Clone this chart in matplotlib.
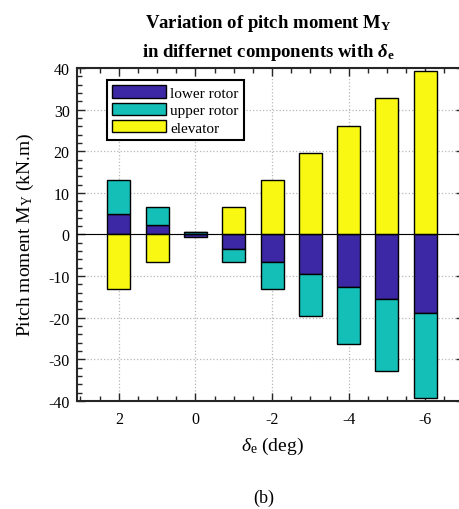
import numpy as np
import matplotlib
matplotlib.use('Agg')
import matplotlib.pyplot as plt
from matplotlib.ticker import MultipleLocator

# fonts: Times-like serif everywhere, math in the same family
plt.rcParams['font.family'] = ['Liberation Serif', 'DejaVu Serif']
plt.rcParams['mathtext.fontset'] = 'custom'
plt.rcParams['mathtext.rm'] = 'Liberation Serif'
plt.rcParams['mathtext.it'] = 'Liberation Serif:italic'
plt.rcParams['mathtext.bf'] = 'Liberation Serif:bold'
plt.rcParams['mathtext.bfit'] = 'Liberation Serif:bold:italic'
plt.rcParams['axes.unicode_minus'] = False

# data (kN.m)
delta_e = [2, 1, 0, -1, -2, -3, -4, -5, -6]
lower_rotor = [5.0, 2.3, -0.6, -3.6, -6.5, -9.6, -12.7, -15.6, -18.8]
upper_rotor = [8.2, 4.4, 0.6, -2.9, -6.5, -10.0, -13.5, -17.2, -20.5]
elevator = [-13.2, -6.7, 0.0, 6.5, 13.1, 19.6, 26.1, 32.8, 39.3]
xtick_vals = [2, 0, -2, -4, -6]

series = [('lower rotor', lower_rotor, '#3c28a4'),
          ('upper rotor', upper_rotor, '#14bfb7'),
          ('elevator', elevator, '#f8f812')]

fig = plt.figure(figsize=(4.59, 5.10), dpi=100)
ax = fig.add_axes([0.167, 0.2118, 0.843, 0.6529])

# stacked bars, positive and negative parts stacked separately
pos_base = np.zeros(len(delta_e))
neg_base = np.zeros(len(delta_e))
for name, vals, col in series:
    v = np.array(vals)
    base = np.where(v >= 0, pos_base, neg_base)
    ax.bar(delta_e, v, width=0.6, bottom=base, color=col, edgecolor='black',
           linewidth=1.0, label=name, zorder=2)
    pos_base = pos_base + np.where(v > 0, v, 0)
    neg_base = neg_base + np.where(v < 0, v, 0)

ax.axhline(0, color='black', linewidth=0.8, zorder=3)

ax.set_xlim(3.1, -7.0)
ax.set_ylim(-40, 40)
ax.set_xticks(xtick_vals)
ax.set_xticklabels([str(t) for t in xtick_vals])
ax.xaxis.set_minor_locator(MultipleLocator(0.5))
ax.yaxis.set_major_locator(MultipleLocator(10))
ax.yaxis.set_minor_locator(MultipleLocator(2))
ax.tick_params(which='both', direction='in', top=True, right=True,
               width=1.0, colors='#262626', labelcolor='black', labelsize=11.5)
ax.tick_params(which='major', length=6)
ax.tick_params(which='minor', length=3.5)
ax.tick_params(axis='x', pad=7)
ax.tick_params(axis='y', pad=5)
for s in ax.spines.values():
    s.set_linewidth(1.5)
    s.set_color('#262626')

ax.grid(True, which='major', linestyle=':', color='#b8b8b8', linewidth=0.9)
ax.set_axisbelow(True)

leg = ax.legend(loc='upper left', bbox_to_anchor=(0.078, 0.964), borderaxespad=0,
                fontsize=11, fancybox=False, framealpha=1, edgecolor='black',
                handlelength=3.5, handleheight=0.85, labelspacing=0.2,
                borderpad=0.35, handletextpad=0.3)
leg.get_frame().set_linewidth(1.5)

# title, axis labels
fig.text(0.584, 1 - 28 / 510, r'Variation of pitch moment M$_\mathbf{Y}$',
         ha='center', va='baseline', fontsize=13.5, fontweight='bold')
fig.text(0.584, 1 - 57 / 510, r'in differnet components with $\boldsymbol{\delta}_\mathbf{e}$',
         ha='center', va='baseline', fontsize=13.5, fontweight='bold')
fig.text(0.055, 0.539, r'Pitch moment M$_\mathrm{Y}$ (kN.m)', rotation=90,
         ha='center', va='center', fontsize=14)
fig.text(272 / 459, 1 - 451 / 510, r'$\delta_\mathrm{e}$ (deg)',
         ha='center', va='baseline', fontsize=14)
fig.text(264 / 459, 1 - 503 / 510, '(b)', ha='center', va='baseline', fontsize=13)

fig.savefig('out.png', dpi=100)
